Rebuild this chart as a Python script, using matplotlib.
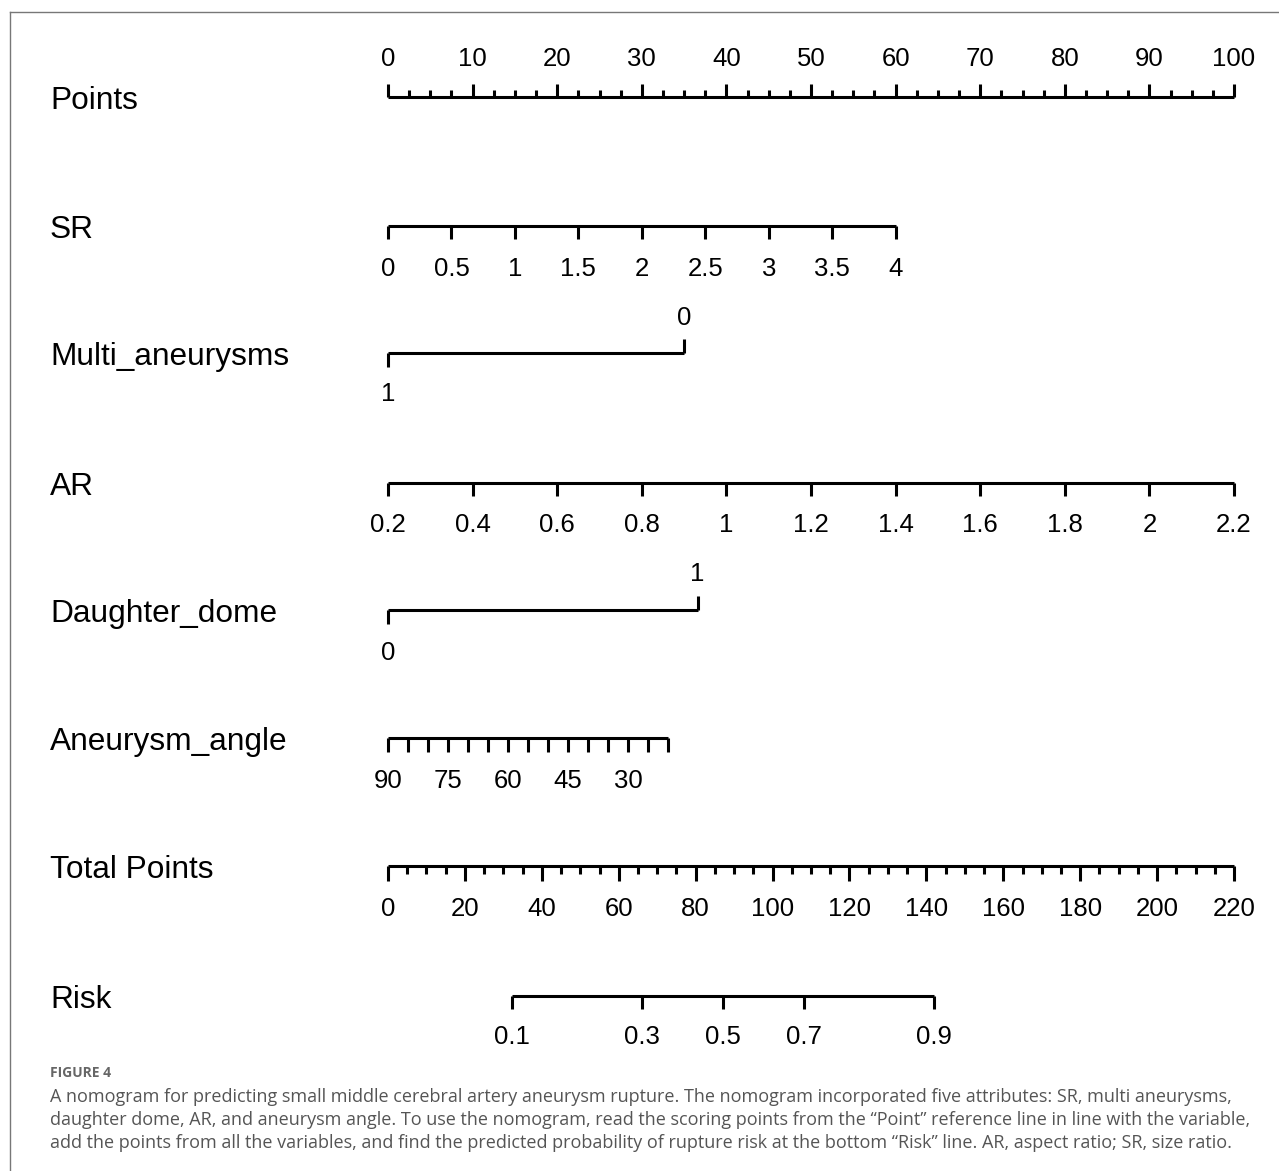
import numpy as np
import matplotlib
matplotlib.use("Agg")
import matplotlib.pyplot as plt
from matplotlib.transforms import blended_transform_factory
from matplotlib.lines import Line2D

# ---------------- data ----------------
points_major = [0, 10, 20, 30, 40, 50, 60, 70, 80, 90, 100]
points_minor = [v for v in np.arange(0, 100.01, 2.5) if v % 10 != 0]

sr_values = [0, 0.5, 1, 1.5, 2, 2.5, 3, 3.5, 4]
sr_labels = ["0", "0.5", "1", "1.5", "2", "2.5", "3", "3.5", "4"]
sr_points = [0, 7.5, 15, 22.5, 30, 37.5, 45, 52.5, 60]

multi_levels = ["1", "0"]
multi_points = [0, 35]

ar_labels = ["0.2", "0.4", "0.6", "0.8", "1", "1.2", "1.4", "1.6", "1.8", "2", "2.2"]
ar_points = [0, 10, 20, 30, 40, 50, 60, 70, 80, 90, 100]

daughter_levels = ["0", "1"]
daughter_points = [0, 36.6]

angle_values = [90, 85, 80, 75, 70, 65, 60, 55, 50, 45, 40, 35, 30, 25, 20]
angle_points = [0, 2.4, 4.7, 7.1, 9.5, 11.8, 14.2, 16.6, 18.9, 21.3, 23.6, 26.0, 28.4, 30.7, 33.1]
angle_labelled = [90, 75, 60, 45, 30]

total_major = [0, 20, 40, 60, 80, 100, 120, 140, 160, 180, 200, 220]
total_minor = [v for v in range(0, 221, 5) if v % 20 != 0]

risk_labels = ["0.1", "0.3", "0.5", "0.7", "0.9"]
risk_total = [32.2, 66.0, 87.1, 108.2, 142.0]

row_names = ["Points", "SR", "Multi_aneurysms", "AR", "Daughter_dome",
             "Aneurysm_angle", "Total Points", "Risk"]

caption_title = "FIGURE 4"
caption_lines = [
    "A nomogram for predicting small middle cerebral artery aneurysm rupture. The nomogram incorporated five attributes: SR, multi aneurysms,",
    "daughter dome, AR, and aneurysm angle. To use the nomogram, read the scoring points from the \u201cPoint\u201d reference line in line with the variable,",
    "add the points from all the variables, and find the predicted probability of rupture risk at the bottom \u201cRisk\u201d line. AR, aspect ratio; SR, size ratio.",
]

# ---------------- layout ----------------
W, H = 1279, 1171
fig = plt.figure(figsize=(W / 100, H / 100), dpi=100)
fig.patch.set_facecolor("white")

x0, x1 = 388, 1234
ax = fig.add_axes([x0 / W, 0, (x1 - x0) / W, 1])
ax.set_xlim(0, 100)
ax.set_ylim(H, 0)
ax.axis("off")
ax2 = fig.add_axes([x0 / W, 0, (x1 - x0) / W, 1], sharey=ax)
ax2.set_xlim(0, 220)
ax2.axis("off")

row_y = [97, 226, 353, 483, 610, 738, 866, 996]
LW = 2.2
FONT = "Liberation Sans"
TICK_FS = 18.5
NAME_FS = 22.8
DIG = 9.2  # half digit height in px (baseline offset)

def hline(a, xa, xb, y):
    a.plot([xa, xb], [y, y], color="black", lw=LW, solid_capstyle="butt", clip_on=False)

def tick(a, x, y, length):
    a.plot([x, x], [y, y + length], color="black", lw=LW, solid_capstyle="butt", clip_on=False)

def label(a, x, y_center, s):
    a.text(x, y_center + DIG, s, ha="center", va="baseline", fontsize=TICK_FS,
           family=FONT, clip_on=False)

# Row names
tr = blended_transform_factory(fig.transFigure, ax.transData)
for name, y in zip(row_names, row_y):
    ax.text(50 / W, y + 12, name, transform=tr, fontsize=NAME_FS, family=FONT,
            ha="left", va="baseline")

# Points
y = row_y[0]
hline(ax, 0, 100, y)
for v in points_major:
    tick(ax, v, y, -13)
    label(ax, v, 57, str(v))
for v in points_minor:
    tick(ax, v, y, -7)

# SR
y = row_y[1]
hline(ax, sr_points[0], sr_points[-1], y)
for p, s in zip(sr_points, sr_labels):
    tick(ax, p, y, 13)
    label(ax, p, 267, s)

# Multi_aneurysms
y = row_y[2]
hline(ax, min(multi_points), max(multi_points), y)
tick(ax, multi_points[0], y, 14)
label(ax, multi_points[0], 392, multi_levels[0])
tick(ax, multi_points[1], y, -14)
label(ax, multi_points[1], 316, multi_levels[1])

# AR
y = row_y[3]
hline(ax, ar_points[0], ar_points[-1], y)
for p, s in zip(ar_points, ar_labels):
    tick(ax, p, y, 13)
    label(ax, p, 523, s)

# Daughter_dome
y = row_y[4]
hline(ax, min(daughter_points), max(daughter_points), y)
tick(ax, daughter_points[0], y, 14)
label(ax, daughter_points[0], 651, daughter_levels[0])
tick(ax, daughter_points[1], y, -14)
label(ax, daughter_points[1], 572, daughter_levels[1])

# Aneurysm_angle
y = row_y[5]
hline(ax, angle_points[0], angle_points[-1], y)
for p, v in zip(angle_points, angle_values):
    tick(ax, p, y, 14)
    if v in angle_labelled:
        label(ax, p, 779, str(v))

# Total Points
y = row_y[6]
hline(ax2, 0, 220, y)
for v in total_major:
    tick(ax2, v, y, 15)
    label(ax2, v, 907, str(v))
for v in total_minor:
    tick(ax2, v, y, 8)

# Risk
y = row_y[7]
hline(ax2, risk_total[0], risk_total[-1], y)
for p, s in zip(risk_total, risk_labels):
    tick(ax2, p, y, 13)
    label(ax2, p, 1035, s)

# Frame lines (left and top)
fig.add_artist(Line2D([10 / W, 10 / W], [0, 1 - 12 / H], transform=fig.transFigure,
                      color="#777777", lw=1.0))
fig.add_artist(Line2D([10 / W, 1], [1 - 12 / H, 1 - 12 / H], transform=fig.transFigure,
                      color="#777777", lw=1.0))

# Caption
fig.text(50 / W, 1 - 1077 / H, caption_title, fontsize=10, family="Open Sans",
         fontweight="bold", color="#666666", ha="left", va="baseline")
for i, line in enumerate(caption_lines):
    fig.text(50 / W, 1 - (1102 + 23 * i) / H, line, fontsize=13.0, family="Open Sans",
             color="#555555", ha="left", va="baseline")

fig.savefig("out.png", dpi=100, facecolor="white")
